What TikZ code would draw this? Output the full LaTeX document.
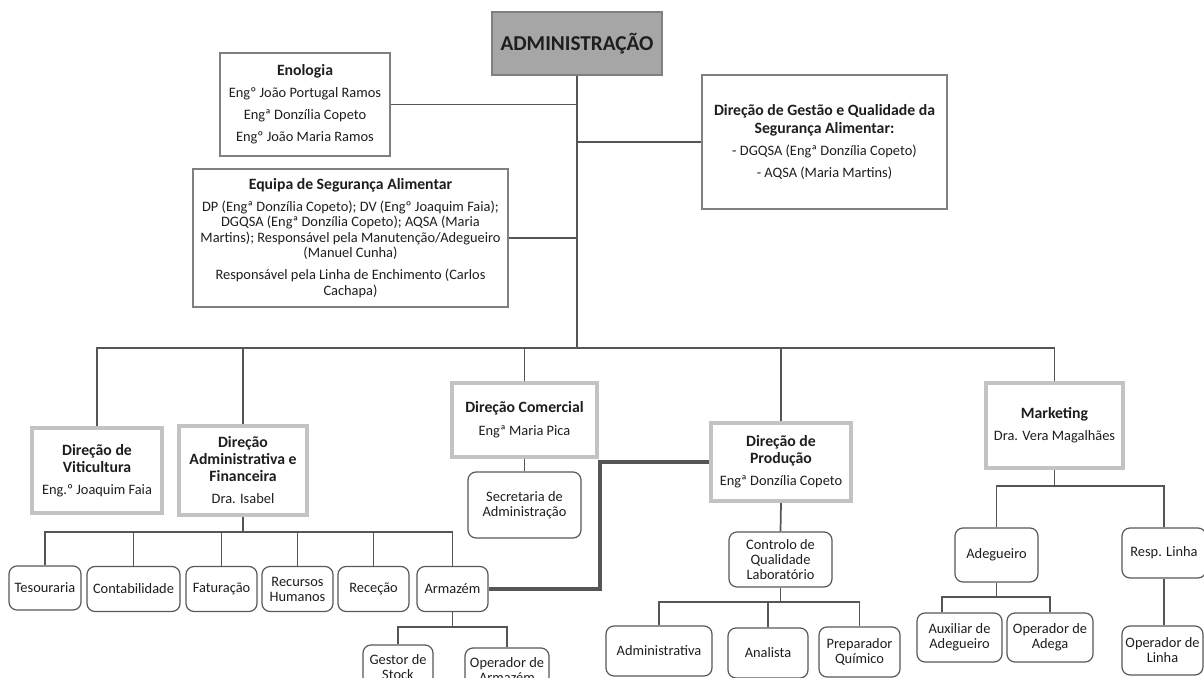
\documentclass[tikz,border=0pt]{standalone}
\usepackage{fontspec}
\setmainfont{Carlito}
\definecolor{cAdm}{RGB}{166,166,166}
\definecolor{cAdmB}{RGB}{127,127,127}
\definecolor{cInfo}{RGB}{128,128,128}
\definecolor{cDir}{RGB}{195,195,195}
\definecolor{cUnit}{RGB}{89,89,89}
\definecolor{cLine}{RGB}{85,85,85}
\definecolor{cText}{RGB}{30,30,30}
\newcommand{\bt}[1]{{\fontsize{11.8}{14}\selectfont\bfseries #1}}
\tikzset{
  base/.style={font=\fontsize{10.8}{12.5}\selectfont, text=cText, align=center, inner sep=0pt},
  admbox/.style={base, draw=cAdmB, fill=cAdm, line width=1.1pt, font=\fontsize{15.9}{18}\selectfont\bfseries},
  infobox/.style={base, draw=cInfo, line width=2.2pt},
  dirbox/.style={base, draw=cDir, line width=3pt, font=\fontsize{10.8}{12.75}\selectfont},
  unitbox/.style={base, draw=cUnit, line width=0.9pt, rounded corners=6pt, font=\fontsize{10.8}{11.25}\selectfont},
  conn/.style={draw=cLine, line width=1.3pt},
  thickconn/.style={draw=cLine, line width=2.6pt},
}
\begin{document}
\begin{tikzpicture}[x=0.75pt,y=-0.75pt]
\clip (0,0) rectangle (1204,678);
\fill[white] (0,0) rectangle (1204,678);
% top level
\node[admbox, minimum width=127.5pt, minimum height=47.25pt] (admin) at (577,43.5) {ADMINISTRAÇÃO};
\node[infobox, minimum width=127.5pt, minimum height=77.25pt, font=\fontsize{10.8}{16.5}\selectfont] (eno) at (305,104.5)
  {\bt{Enologia}\\Engº João Portugal Ramos\\Engª Donzília Copeto\\Engº João Maria Ramos};
\node[infobox, minimum width=236.25pt, minimum height=103.5pt, font=\fontsize{10.8}{11.6}\selectfont] (equipa) at (350.5,238)
  {\bt{Equipa de Segurança Alimentar}\\[4.9pt]
   DP (Engª Donzília Copeto); DV (Engº Joaquim Faia);\\
   DGQSA (Engª Donzília Copeto); AQSA (Maria\\
   Martins); Responsável pela Manutenção/Adegueiro\\
   (Manuel Cunha)\\[4.9pt]
   Responsável pela Linha de Enchimento (Carlos\\
   Cachapa)};
\node[infobox, minimum width=183.75pt, minimum height=100.5pt, font=\fontsize{10.8}{13.3}\selectfont] (dgqsa) at (824.5,142)
  {\bt{Direção de Gestão e Qualidade da}\\\bt{Segurança Alimentar:}\\[3.2pt]
   - DGQSA (Engª Donzília Copeto)\\[3.2pt]- AQSA (Maria Martins)};
% directions
\node[dirbox, minimum width=97.5pt, minimum height=63.75pt] (vit) at (97,470.5)
  {\bt{Direção de}\\\bt{Viticultura}\\[3.75pt]Eng.º Joaquim Faia};
\node[dirbox, minimum width=96pt, minimum height=66.75pt] (admfin) at (243,470.5)
  {\bt{Direção}\\\bt{Administrativa e}\\\bt{Financeira}\\[3.75pt]Dra. Isabel};
\node[dirbox, minimum width=108.75pt, minimum height=55.5pt, font=\fontsize{10.8}{17}\selectfont] (com) at (524.5,420)
  {\bt{Direção Comercial}\\Engª Maria Pica};
\node[dirbox, minimum width=105pt, minimum height=58.5pt] (prod) at (781,462)
  {\bt{Direção de}\\\bt{Produção}\\[3.75pt]Engª Donzília Copeto};
\node[dirbox, minimum width=102.75pt, minimum height=63.75pt, font=\fontsize{10.8}{16.5}\selectfont] (mkt) at (1054.5,425.5)
  {\bt{Marketing}\\Dra. Vera Magalhães};
% units
\node[unitbox, minimum width=84.75pt, minimum height=49.5pt] (sec) at (524.5,505) {Secretaria de\\Administração};
\node[unitbox, minimum width=54pt, minimum height=33pt] (tes) at (45,588) {Tesouraria};
\node[unitbox, minimum width=69.75pt, minimum height=33.75pt] (cont) at (133.5,589) {Contabilidade};
\node[unitbox, minimum width=53.25pt, minimum height=33.75pt] (fat) at (221.5,589) {Faturação};
\node[unitbox, minimum width=53.25pt, minimum height=33.75pt] (rh) at (297.5,589) {Recursos\\Humanos};
\node[unitbox, minimum width=53.25pt, minimum height=33.75pt] (rec) at (373.5,589) {Receção};
\node[unitbox, minimum width=53.25pt, minimum height=33.75pt] (arm) at (452.5,589) {Armazém};
\node[unitbox, minimum width=52.5pt, minimum height=33pt] (gest) at (398,667) {Gestor de\\Stock};
\node[unitbox, minimum width=63pt, minimum height=33pt] (oparm) at (507,670) {Operador de\\Armazém};
\node[unitbox, minimum width=77.25pt, minimum height=41.25pt] (ctrl) at (780.5,559.5) {Controlo de\\Qualidade\\Laboratório};
\node[unitbox, minimum width=79.5pt, minimum height=37.5pt] (adm2) at (659,651) {Administrativa};
\node[unitbox, minimum width=60pt, minimum height=37.5pt] (anal) at (768,653) {Analista};
\node[unitbox, minimum width=60.75pt, minimum height=37.5pt] (prep) at (859.5,652) {Preparador\\Químico};
\node[unitbox, minimum width=62.25pt, minimum height=40.5pt] (adeg) at (996.5,555) {Adegueiro};
\node[unitbox, minimum width=63pt, minimum height=37.5pt] (resp) at (1164,553) {Resp. Linha};
\node[unitbox, minimum width=63.75pt, minimum height=36.75pt] (aux) at (959.5,637.5) {Auxiliar de\\Adegueiro};
\node[unitbox, minimum width=64.5pt, minimum height=36.75pt] (opad) at (1050,637.5) {Operador de\\Adega};
\node[unitbox, minimum width=60.75pt, minimum height=36.75pt] (oplin) at (1162.5,650.5) {Operador de\\Linha};
% connectors
\coordinate (mb) at (577,348);
\draw[conn] (admin.south) -- (mb);
\draw[conn] (eno.east) -- (eno.east -| mb);
\draw[conn] (equipa.east) -- (equipa.east -| mb);
\draw[conn] (dgqsa.west) -- (dgqsa.west -| mb);
\draw[conn] (vit.north) |- (mb) -| (mkt.north);
\draw[conn] (admfin.north) -- (admfin.north |- mb);
\draw[conn] (com.north) -- (com.north |- mb);
\draw[conn] (prod.north) -- (prod.north |- mb);
% admin fin children
\coordinate (afb) at (243,532);
\draw[conn] (admfin.south) -- (afb);
\draw[conn] (tes.north) |- (afb) -| (arm.north);
\draw[conn] (cont.north) -- (cont.north |- afb);
\draw[conn] (fat.north) -- (fat.north |- afb);
\draw[conn] (rh.north) -- (rh.north |- afb);
\draw[conn] (rec.north) -- (rec.north |- afb);
\coordinate (armb) at (452.5,627);
\draw[conn] (arm.south) -- (armb);
\draw[conn] (gest.north) |- (armb) -| (oparm.north);
% comercial
\draw[conn] (com.south) -- (sec.north);
% production
\coordinate (tk) at (600,589);
\draw[thickconn] (prod.west) -| (tk) -- (arm.east);
\draw[conn] (prod.south) -- (ctrl.north);
\coordinate (cb) at (780.5,602);
\draw[conn] (ctrl.south) -- (cb);
\draw[conn] (adm2.north) |- (cb) -| (prep.north);
\draw[conn] (anal.north) -- (anal.north |- cb);
% marketing
\coordinate (mkb) at (1054.5,486);
\draw[conn] (mkt.south) -- (mkb);
\draw[conn] (adeg.north) |- (mkb) -| (resp.north);
\coordinate (adb) at (996.5,597);
\draw[conn] (adeg.south) -- (adb);
\draw[conn] ([xshift=-13pt]aux.north) |- (adb) -| (opad.north);
\draw[conn] (resp.south) -- (resp.south |- oplin.north);
\end{tikzpicture}
\end{document}
